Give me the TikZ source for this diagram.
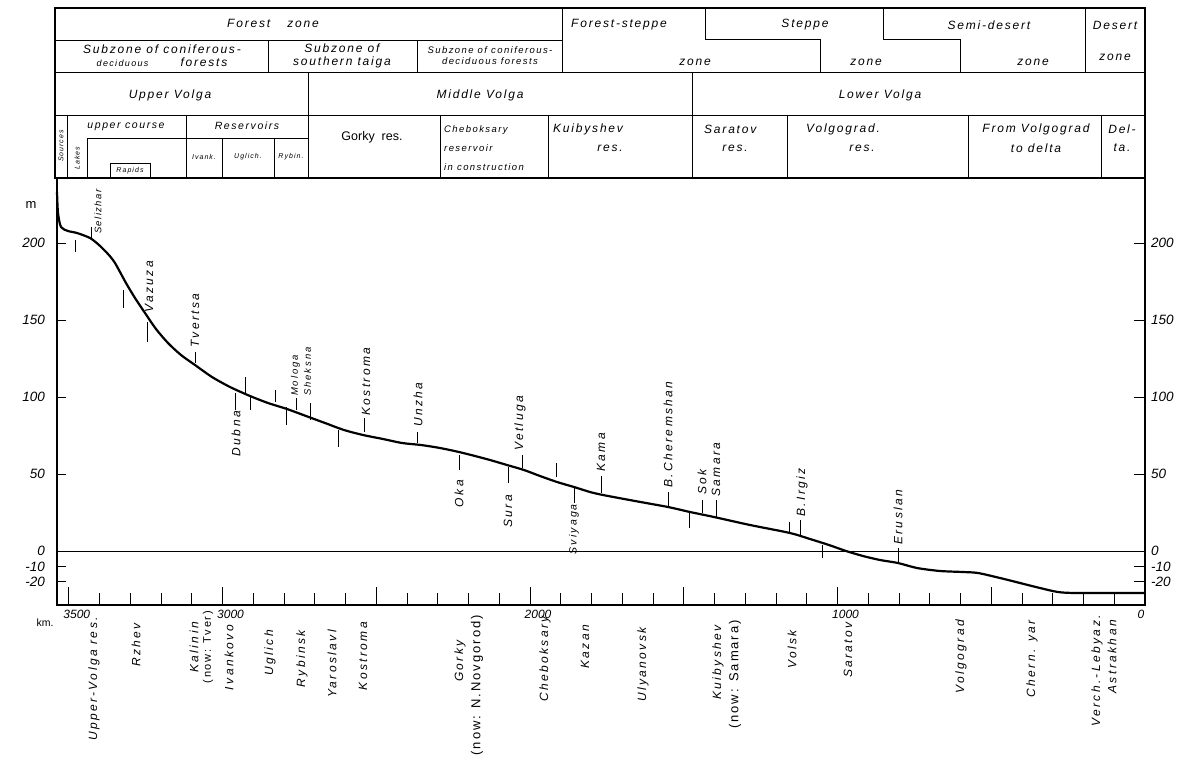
\documentclass[tikz,border=0pt]{standalone}
\usepackage{fontspec}
\setmainfont{Liberation Sans}
\newfontfamily\hand{Liberation Sans}[LetterSpace=15]
\newfontfamily\handw{Liberation Sans}[LetterSpace=20]
\tikzset{
  every picture/.append style={line cap=butt},
  frame/.style={line width=1.1pt, draw=black},
  rule/.style={line width=0.9pt, draw=black},
  prof/.style={line width=2.2pt, line join=round, line cap=round},
  sta/.style={line width=0.7pt},
  ztxt/.style={font={\hand\itshape\fontsize{12}{13}\selectfont}, inner sep=0pt, align=center},
  stxt/.style={ztxt, font={\hand\itshape\fontsize{9.5}{11}\selectfont}},
  tiny/.style={ztxt, font={\hand\itshape\fontsize{7}{8}\selectfont}},
  vlab/.style={rotate=90, inner sep=0pt, align=left, font={\handw\itshape\fontsize{12}{13}\selectfont}},
  now/.style={rotate=90, inner sep=0pt, font={\hand\fontsize{13}{14}\selectfont}},
  ynum/.style={inner sep=0pt, font={\itshape\fontsize{13.5}{13.5}\selectfont}},
  knum/.style={inner sep=0pt, font={\itshape\fontsize{12}{12}\selectfont}},
}
\begin{document}
\begin{tikzpicture}[x=1pt,y=-1pt]
\useasboundingbox (0,0) rectangle (1184,763);

% ---------------- header table -------------------------------------------------
\draw[frame] (55,8) rectangle (1145,178);
\draw[rule] (55,40) -- (562,40);
\draw[rule] (55,72) -- (1145,72);
\draw[rule] (55,115) -- (1145,115);
\draw[rule] (562,8) -- (562,72);
\draw[rule] (1085,8) -- (1085,72);
\draw[rule] (268,40) -- (268,72);
\draw[rule] (417,40) -- (417,72);
\draw[rule] (705,8) -- (705,39) -- (820,39) -- (820,72);
\draw[rule] (883,8) -- (883,39) -- (960,39) -- (960,72);
\draw[rule] (308,72) -- (308,178);
\draw[rule] (692,72) -- (692,178);
\foreach \xv in {440,548,787,968,1101} \draw[rule] (\xv,115) -- (\xv,178);
\draw[rule] (67,115) -- (67,178);
\draw[rule] (87,138) -- (308,138);
\draw[rule] (87,138) -- (87,178);
\draw[rule] (186,115) -- (186,178);
\draw[rule] (222,138) -- (222,178);
\draw[rule] (274,138) -- (274,178);
\draw[rule, line width=0.7pt] (110,163) rectangle (150,178);

\node[ztxt] (z1) at (273,23) {Forest\quad\ zone};
\node[ztxt] (z2) at (162,56) {Subzone of coniferous-\\{\fontsize{9}{11}\selectfont deciduous}\hspace{32pt}forests};
\node[ztxt] (z3) at (342,56) {Subzone of\\southern taiga};
\node[stxt] (z4) at (490,56) {Subzone of coniferous-\\deciduous forests};
\node[ztxt, anchor=west] (z5) at (571,25) {Forest-steppe};
\node[ztxt] (z6) at (695,62) {zone};
\node[ztxt] (z7) at (805,25) {Steppe};
\node[ztxt] (z8) at (866,62) {zone};
\node[ztxt] (z9) at (989,25) {Semi-desert};
\node[ztxt] (z10) at (1033,62) {zone};
\node[ztxt] (z11) at (1115,25) {Desert};
\node[ztxt] (z12) at (1115,57) {zone};

\node[ztxt] (v1) at (170,95) {Upper Volga};
\node[ztxt] (v2) at (480,95) {Middle Volga};
\node[ztxt] (v3) at (880,95) {Lower Volga};

\node[tiny, rotate=90] (r1) at (61,146) {Sources};
\node[tiny, rotate=90] (r2) at (77,158) {Lakes};
\node[stxt, font={\hand\itshape\fontsize{10.5}{11}\selectfont}] (r3) at (126,127) {upper course};
\node[tiny] (r4) at (130,171) {Rapids};
\node[stxt, font={\hand\itshape\fontsize{10.5}{11}\selectfont}] (r5) at (247,126) {Reservoirs};
\node[tiny] (r6) at (204,157) {Ivank.};
\node[tiny] (r7) at (248,157) {Uglich.};
\node[tiny] (r8) at (291,157) {Rybin.};
\node[inner sep=0pt, font=\fontsize{12.5}{13}\selectfont] (r9) at (372,137) {Gorky\ \ res.};
\node[ztxt, anchor=west, align=left, font={\hand\itshape\fontsize{9.5}{19}\selectfont}] (r10) at (444,148)
  {Cheboksary\\reservoir\\in construction};
\node[ztxt, anchor=west] (r11) at (553,129) {Kuibyshev};
\node[ztxt] (r12) at (610,148) {res.};
\node[ztxt, anchor=west] (r13) at (704,129) {Saratov};
\node[ztxt] (r14) at (735,148) {res.};
\node[ztxt, anchor=west] (r15) at (806,129) {Volgograd.};
\node[ztxt] (r16) at (862,148) {res.};
\node[ztxt] (r17) at (1036,129) {From Volgograd};
\node[ztxt] (r18) at (1036,148) {to delta};
\node[ztxt] (r19) at (1122,129) {Del-};
\node[ztxt] (r20) at (1122,148) {ta.};

% ---------------- axes -----------------------------------------------------------
\draw[frame] (57,178) -- (57,605) -- (1145,605) -- (1145,178);
\draw[rule, line width=0.8pt] (57,551) -- (1145,551);
\foreach \m in {200,150,100,50,-10,-20} {
  \draw[sta, line width=0.9pt] (57,{551-1.54*\m}) -- ++(9,0);
  \draw[sta, line width=0.9pt] (1145,{551-1.54*\m}) -- ++(-11,0);
}
\foreach \m [count=\i] in {200,150,100,50,0,-10,-20} {
  \node[ynum, anchor=east] (yl\i) at (45,{551-1.54*\m}) {\m};
  \node[ynum, anchor=west] (yr\i) at (1151,{551-1.54*\m}) {\m};
}
\node[ynum, font=\fontsize{13}{13}\selectfont] (ym) at (31,205) {m};

\foreach \k in {100,200,...,3500} \draw[sta, line width=0.9pt] ({1145-0.3075*\k},605) -- ++(0,-12);
\foreach \k in {500,1000,...,3500} \draw[sta, line width=0.9pt] ({1145-0.3075*\k},605) -- ++(0,-18);
\foreach \k [count=\i] in {3500,3000,2000,1000} \node[knum] (kl\i) at ({1153-0.3075*\k},614) {\k};
\node[knum] (kl5) at (1141,614) {0};
\node[knum, font=\fontsize{10.5}{10.5}\selectfont] (km) at (45,623) {km.};

% ---------------- longitudinal profile ---------------------------------------------
\draw[prof] plot[smooth, tension=0.45] coordinates {
  (57,192) (58,213) (61,227) (68,231) (77,233) (90,238) (99,245) (108,254) (115,263)
  (126,283) (135,298) (145,313) (156,329) (168,343) (181,355) (195,365) (212,377)
  (230,387) (250,396) (268,403) (287,409) (306,416) (325,423) (344,430) (363,435)
  (383,439) (402,443) (421,445) (440,448) (459,452) (475,456) (490,460) (507,465)
  (524,470) (540,476) (557,482) (574,487) (590,492) (603,495) (635,501) (668,507)
  (690,512) (714,517) (750,525) (790,533) (810,539) (829,545) (846,551) (863,556)
  (880,560) (898,563) (917,568) (940,571) (963,572) (978,573) (1000,578) (1020,583)
  (1040,588) (1058,592) (1077,593) (1145,593)};

\foreach \xs/\ya/\yb in {75/240/252, 91/227/240, 123/290/308, 147/322/342, 195/352/363,
  235/393/410, 245/377/393, 250/397/410, 275/390/402, 286/407/425, 296/398/410,
  310/403/420, 338/430/447, 364/418/432, 417/432/443, 459/455/470, 508/467/483,
  522/455/468, 556/463/477, 574/488/503, 601/476/493, 668/492/507, 689/513/528,
  702/500/513, 716/500/517, 789/522/533, 800/520/537, 822/545/558, 898/548/563}
  \draw[sta] (\xs,\ya) -- (\xs,\yb);

% tributaries and dams along the profile
\node[vlab, anchor=west, font={\hand\itshape\fontsize{9.5}{11}\selectfont}] (t1) at (98,234) {Selizhar};
\node[vlab, anchor=west] (t2) at (149,313) {Vazuza};
\node[vlab, anchor=west] (t3) at (195,348) {Tvertsa};
\node[vlab, anchor=east] (t4) at (236,411) {Dubna};
\node[vlab, anchor=west, font={\handw\itshape\fontsize{9.5}{13}\selectfont}] (t5) at (301,396) {Mologa\\Sheksna};
\node[vlab, anchor=west] (t6) at (366,416) {Kostroma};
\node[vlab, anchor=west] (t7) at (418,427) {Unzha};
\node[vlab, anchor=east] (t8) at (459,480) {Oka};
\node[vlab, anchor=east] (t9) at (508,495) {Sura};
\node[vlab, anchor=west] (t10) at (520,451) {Vetluga};
\node[vlab, anchor=east, font={\handw\itshape\fontsize{10.5}{12}\selectfont}] (t11) at (574,504) {Sviyaga};
\node[vlab, anchor=west] (t12) at (601,472) {Kama};
\node[vlab, anchor=west] (t13) at (668,488) {B.Cheremshan};
\node[vlab, anchor=west] (t14) at (702,495) {Sok};
\node[vlab, anchor=west] (t15) at (716,497) {Samara};
\node[vlab, anchor=west] (t16) at (802,517) {B.Irgiz};
\node[vlab, anchor=west] (t17) at (898,545) {Eruslan};

% ---------------- towns under the km axis -------------------------------------------
\node[vlab, anchor=east] (w1) at (94,617) {Upper-Volga res.};
\node[vlab, anchor=east] (w2) at (136,623) {Rzhev};
\node[vlab, anchor=east] (w3) at (194,622) {Kalinin};
\node[now, anchor=east, font={\hand\fontsize{11}{12}\selectfont}] (w4) at (208,611) {(now: Tver)};
\node[vlab, anchor=east] (w5) at (229,625) {Ivankovo};
\node[vlab, anchor=east] (w6) at (270,630) {Uglich};
\node[vlab, anchor=east] (w7) at (302,630) {Rybinsk};
\node[vlab, anchor=east] (w8) at (332,630) {Yaroslavl};
\node[vlab, anchor=east] (w9) at (363,622) {Kostroma};
\node[vlab, anchor=east] (w10) at (460,640) {Gorky};
\node[now, anchor=east] (w11) at (477,615) {(now: N.Novgorod)};
\node[vlab, anchor=east] (w12) at (545,616) {Cheboksary};
\node[vlab, anchor=east] (w13) at (585,625) {Kazan};
\node[vlab, anchor=east] (w14) at (643,627) {Ulyanovsk};
\node[vlab, anchor=east] (w15) at (718,625) {Kuibyshev};
\node[now, anchor=east] (w16) at (735,620) {(now: Samara)};
\node[vlab, anchor=east] (w17) at (792,630) {Volsk};
\node[vlab, anchor=east] (w18) at (848,622) {Saratov};
\node[vlab, anchor=east] (w19) at (961,620) {Volgograd};
\node[vlab, anchor=east] (w20) at (1032,620) {Chern. yar};
\node[vlab, anchor=east] (w21) at (1097,615) {Verch.-Lebyaz.};
\node[vlab, anchor=east] (w22) at (1112,620) {Astrakhan};

\end{tikzpicture}
\end{document}
